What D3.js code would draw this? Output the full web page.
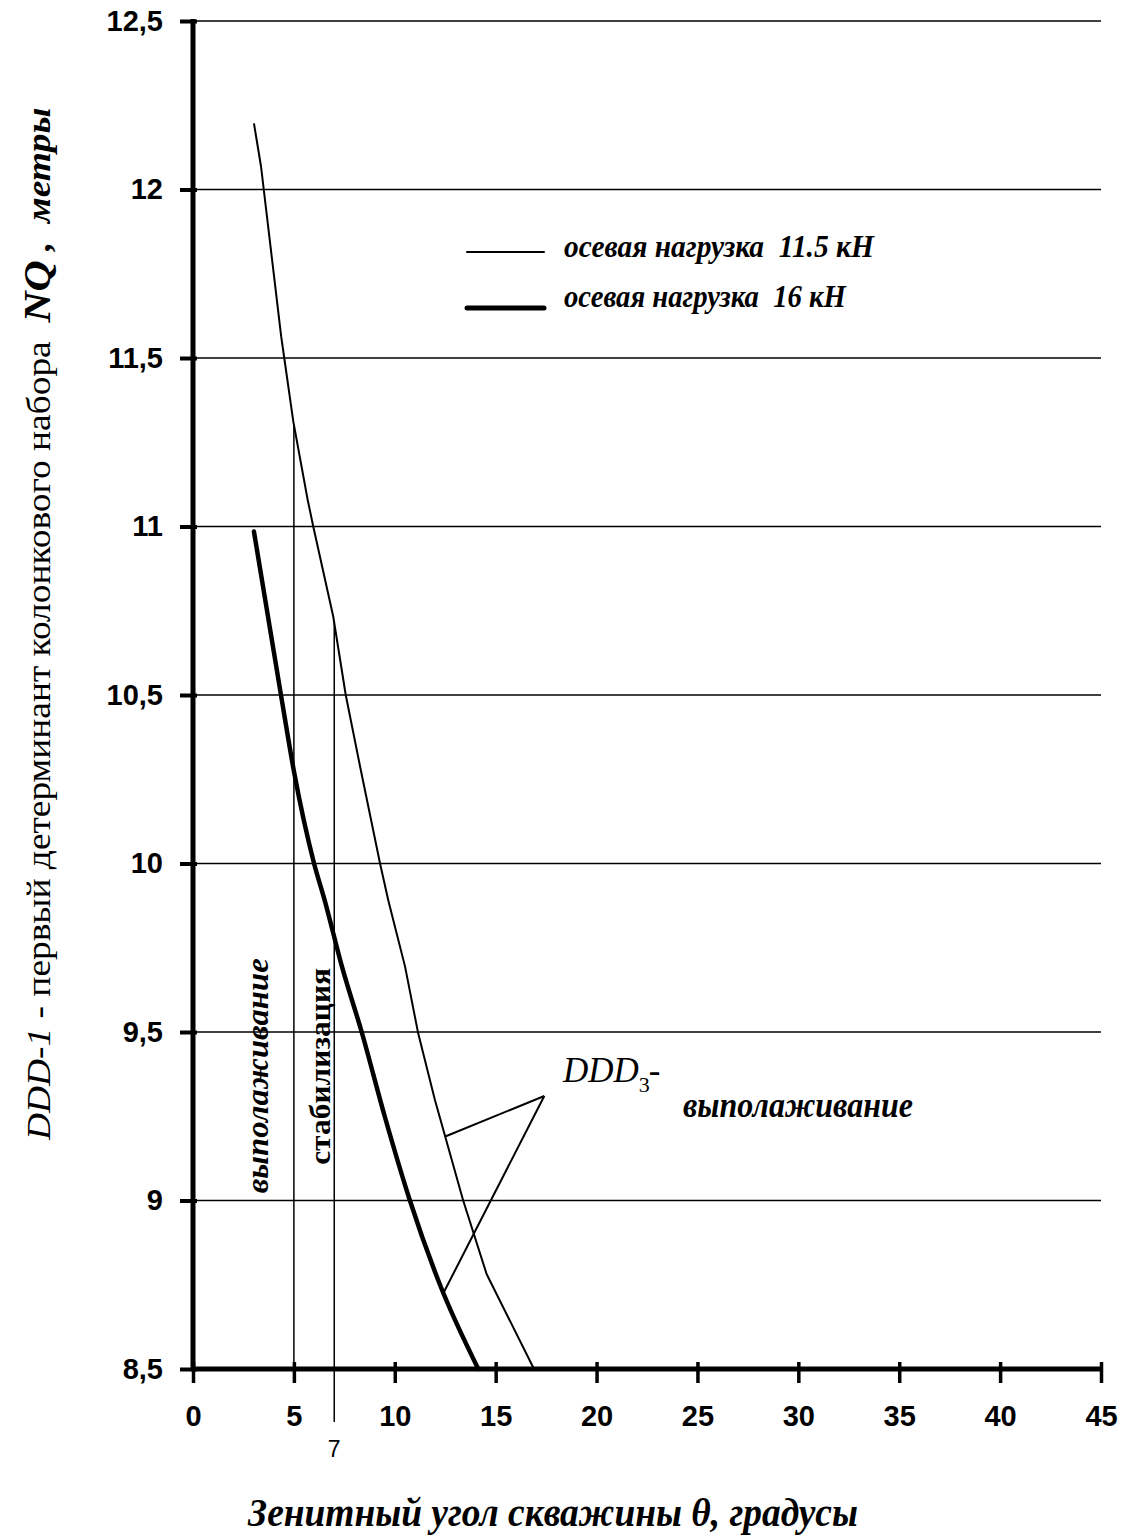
<!DOCTYPE html>
<html>
<head>
<meta charset="utf-8">
<script src="https://cdn.jsdelivr.net/npm/d3@7"></script>
<style>
  body { margin: 0; background: #fff; }
  svg { display: block; }
  text { white-space: pre; }
</style>
</head>
<body>
<svg id="chart" width="1128" height="1537"></svg>
<script>
// Zenith angle (degrees) and NQ (metres) for the two axial loads
const theta115 = [3.02, 3.37, 4.37, 4.53, 4.97, 5.68, 5.96, 6.95, 7.57, 8.28, 9.27, 9.68, 10.51, 11.16, 11.99, 13.39, 14.55, 16.9];
const nq115    = [12.196, 12.069, 11.564, 11.497, 11.312, 11.08, 11.0, 10.733, 10.5, 10.288, 10.0, 9.89, 9.694, 9.496, 9.298, 9.0, 8.782, 8.5];
const theta16  = [3.02, 4.36, 5.02, 6.0, 6.53, 7.4, 8.36, 9.5, 10.75, 12.24, 14.14];
const nq16     = [10.985, 10.5, 10.268, 10.0, 9.89, 9.69, 9.5, 9.25, 9.0, 8.75, 8.5];

// Axis ticks
const xTicks = [0, 5, 10, 15, 20, 25, 30, 35, 40, 45];
const yTicks = [8.5, 9, 9.5, 10, 10.5, 11, 11.5, 12, 12.5];
const yTickLabels = ["8,5", "9", "9,5", "10", "10,5", "11", "11,5", "12", "12,5"];

// Zone boundaries (angle, top value on the 11.5 kN curve, bottom value)
const zoneTheta = [5, 7];
const zoneTop = [11.3, 10.72];
const zoneBottom = [8.5, 8.343];

// Callout for the DDD-3 leader lines
const calloutApex = [17.41, 9.31];
const calloutTargets = [[12.5, 9.19], [12.45, 8.73]];

const legendLabels = ["осевая нагрузка  11.5 кН", "осевая нагрузка  16 кН"];

const svg = d3.select("#chart");
const x = d3.scaleLinear().domain([0, 45]).range([193, 1101]);
const y = d3.scaleLinear().domain([8.5, 12.5]).range([1369, 21]);

const serif = "'Liberation Serif','Times New Roman',serif";
const sans = "'Liberation Sans',Arial,sans-serif";

// scale a text element along its reading direction to a given length,
// optionally stretching the glyph height as well
function fit(sel, len, base, ky = 1) {
  const n = sel.node().getComputedTextLength();
  sel.attr("transform", base + ` scale(${len / n},${ky})`);
}

// horizontal gridlines
svg.append("g").selectAll("line").data(yTicks.slice(1)).join("line")
  .attr("x1", x(0)).attr("x2", x(45))
  .attr("y1", d => y(d)).attr("y2", d => y(d))
  .attr("stroke", "#000").attr("stroke-width", 1.5);

// zone boundary lines
svg.append("g").selectAll("line").data(zoneTheta).join("line")
  .attr("x1", d => x(d)).attr("x2", d => x(d))
  .attr("y1", (d, i) => y(zoneBottom[i])).attr("y2", (d, i) => y(zoneTop[i]))
  .attr("stroke", "#000").attr("stroke-width", 1.5);

// curves: 11.5 kN as a polyline, 16 kN smoothed
const thinLine = d3.line().x(d => x(d[0])).y(d => y(d[1]));
const thickLine = d3.line().x(d => x(d[0])).y(d => y(d[1])).curve(d3.curveMonotoneX);
svg.append("path").datum(theta115.map((t, i) => [t, nq115[i]]))
  .attr("d", thinLine).attr("fill", "none").attr("stroke", "#000").attr("stroke-width", 2)
  .attr("stroke-linejoin", "round");
svg.append("path").datum(theta16.map((t, i) => [t, nq16[i]]))
  .attr("d", thickLine).attr("fill", "none").attr("stroke", "#000").attr("stroke-width", 4.5)
  .attr("stroke-linecap", "round");

// leader lines
svg.append("g").selectAll("line").data(calloutTargets).join("line")
  .attr("x1", x(calloutApex[0])).attr("y1", y(calloutApex[1]))
  .attr("x2", d => x(d[0])).attr("y2", d => y(d[1]))
  .attr("stroke", "#000").attr("stroke-width", 2);

// axes
const xAxis = svg.append("g").attr("transform", `translate(0,${y(8.5)})`)
  .call(d3.axisBottom(x).tickValues(xTicks).tickSize(14).tickPadding(22).tickFormat(d3.format("d")));
xAxis.select(".domain").remove();
xAxis.selectAll(".tick line").attr("y1", -7).attr("stroke-width", 3.5);
xAxis.selectAll(".tick text").attr("font-family", sans).attr("font-weight", "bold")
  .attr("font-size", 29).attr("fill", "#000").attr("dy", "0.71em");
svg.append("line").attr("x1", x(0) - 2).attr("x2", x(45) + 2)
  .attr("y1", y(8.5)).attr("y2", y(8.5)).attr("stroke", "#000").attr("stroke-width", 5);

const yAxis = svg.append("g").attr("transform", `translate(${x(0)},0)`)
  .call(d3.axisLeft(y).tickValues(yTicks).tickSize(13).tickPadding(17)
    .tickFormat((d, i) => yTickLabels[i]));
yAxis.select(".domain").remove();
yAxis.selectAll(".tick line").attr("x1", 4).attr("stroke-width", 4);
yAxis.selectAll(".tick text").attr("font-family", sans).attr("font-weight", "bold")
  .attr("font-size", 29).attr("fill", "#000");
svg.append("line").attr("x1", x(0)).attr("x2", x(0))
  .attr("y1", y(12.5) - 2).attr("y2", y(8.5) + 2).attr("stroke", "#000").attr("stroke-width", 5);

// extra angle label under the 7° boundary
svg.append("text").attr("x", x(7)).attr("y", 1457).attr("text-anchor", "middle")
  .attr("font-family", sans).attr("font-size", 23).text("7");

// zone captions
const capA = svg.append("text").attr("text-anchor", "middle")
  .attr("font-family", serif).attr("font-weight", "bold").attr("font-style", "italic")
  .attr("font-size", 31).text("выполаживание");
fit(capA, 235, `translate(${x(3.72)},${y(9.37)}) rotate(-90)`);
const capB = svg.append("text").attr("text-anchor", "middle")
  .attr("font-family", serif).attr("font-weight", "bold")
  .attr("font-size", 30).text("стабилизация");
fit(capB, 197, `translate(${x(6.79)},${y(9.398)}) rotate(-90)`);

// DDD-3 caption
const ddd = svg.append("text").attr("x", 563).attr("y", 1082)
  .attr("font-family", serif).attr("font-style", "italic").attr("font-size", 35);
ddd.append("tspan").text("DDD");
ddd.append("tspan").attr("dx", 0).attr("dy", 10).attr("font-style", "normal")
  .attr("font-size", 22).text("3");
ddd.append("tspan").attr("dx", -1).attr("dy", -10).text("-");
const dddB = svg.append("text").attr("font-family", serif).attr("font-weight", "bold")
  .attr("font-style", "italic").attr("font-size", 30).text("выполаживание");
fit(dddB, 230, "translate(683,1117)", 1.2);

// legend
const legY = [252, 308], legW = [2, 5], legLen = [310, 282], legBase = [257, 307];
legendLabels.forEach((lab, i) => {
  svg.append("line").attr("x1", 467).attr("x2", 544).attr("y1", legY[i]).attr("y2", legY[i])
    .attr("stroke", "#000").attr("stroke-width", legW[i]).attr("stroke-linecap", "round");
  const t = svg.append("text").attr("font-family", serif).attr("font-weight", "bold")
    .attr("font-style", "italic").attr("font-size", 27).text(lab);
  fit(t, legLen[i], `translate(564,${legBase[i]})`, 1.2);
});

// x-axis title
const xt = svg.append("text").attr("text-anchor", "middle").attr("font-family", serif)
  .attr("font-weight", "bold").attr("font-style", "italic").attr("font-size", 36)
  .text("Зенитный угол скважины θ, градусы");
fit(xt, 610, "translate(553,1526)", 1.1);

// y-axis title
const yt = svg.append("text").attr("font-family", serif).attr("font-size", 33);
yt.append("tspan").attr("font-style", "italic").text("DDD-1");
yt.append("tspan").text(" - первый детерминант колонкового набора  ");
yt.append("tspan").attr("font-style", "italic").attr("font-weight", "bold").attr("font-size", 38).text("NQ");
yt.append("tspan").attr("font-style", "italic").attr("font-weight", "bold").text(" ,  метры");
fit(yt, 1033, "translate(50,1140) rotate(-90)");
</script>
</body>
</html>
